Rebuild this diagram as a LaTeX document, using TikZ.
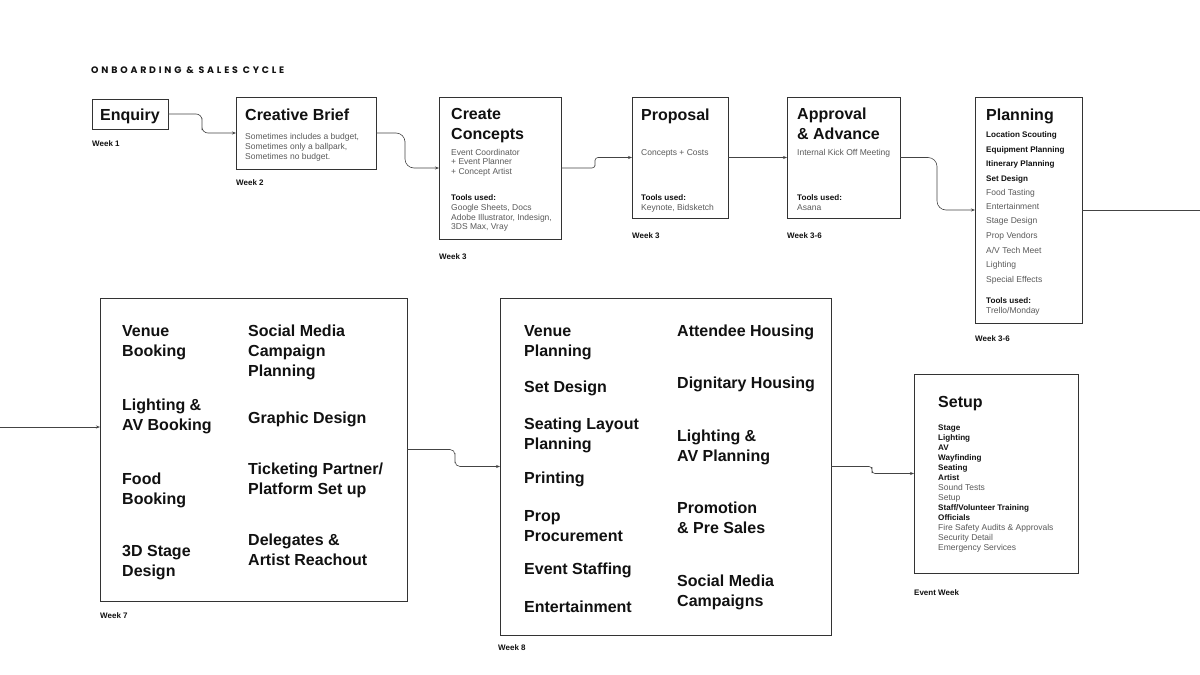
\documentclass[tikz,border=0pt]{standalone}
\usepackage{fontspec}
\setmainfont{Liberation Sans}
\newfontfamily\titlefont{Poppins}[LetterSpace=30.0]
\usetikzlibrary{arrows.meta}
\definecolor{ink}{HTML}{111111}
\definecolor{bodyc}{HTML}{5A5A5A}
\definecolor{boxc}{HTML}{333333}
\definecolor{connc}{HTML}{444444}
\newcommand{\putline}[5]{\node[#1,anchor=base west] (#2) at (#3,#4) {#5};}
\begin{document}
\begin{tikzpicture}[x=1pt,y=-1pt,
  box/.style={draw=boxc,line width=0.9pt,inner sep=0pt,outer sep=0pt,anchor=north west},
  hd/.style={font=\fontsize{16}{19}\selectfont\bfseries,text=ink,inner sep=0pt},
  bd/.style={font=\fontsize{8.5}{10}\selectfont,text=bodyc,inner sep=0pt},
  bdb/.style={font=\fontsize{8.1}{10}\selectfont\bfseries,text=ink,inner sep=0pt},
  wk/.style={font=\fontsize{8}{10}\selectfont\bfseries,text=ink,inner sep=0pt},
  big/.style={font=\fontsize{16}{20}\selectfont\bfseries,text=ink,inner sep=0pt},
  conn/.style={draw=connc,line width=0.6pt,rounded corners=6pt},
  tip/.style={-{Stealth[length=4pt,width=3pt]}}
]
\useasboundingbox (0,0) rectangle (1200,675);
\fill[white] (0,0) rectangle (1200,675);

% title
\node[anchor=base west,inner sep=0pt,text=ink,font=\titlefont\fontsize{9.4}{10}\selectfont\bfseries] (title) at (91,73.5) {ONBOARDING \& SALES CYCLE};

% boxes
\node[box,minimum width=76pt,minimum height=30pt] (enq) at (92,99) {};
\node[box,minimum width=140pt,minimum height=72pt] (cb) at (236,97) {};
\node[box,minimum width=122pt,minimum height=142pt] (cc) at (439,97) {};
\node[box,minimum width=96pt,minimum height=121pt] (prop) at (632,97) {};
\node[box,minimum width=113pt,minimum height=121pt] (appr) at (787,97) {};
\node[box,minimum width=107pt,minimum height=226pt] (plan) at (975,97) {};
\node[box,minimum width=307pt,minimum height=303pt] (w7) at (100,298) {};
\node[box,minimum width=331pt,minimum height=337pt] (w8) at (500,298) {};
\node[box,minimum width=164pt,minimum height=199pt] (setup) at (914,374) {};

% Enquiry
\putline{hd}{enqT}{100}{120}{Enquiry}
\putline{wk}{wk1}{92}{146}{Week 1}

% Creative brief
\putline{hd}{cbT}{245}{120}{Creative Brief}
\putline{bd}{cb1}{245}{139}{Sometimes includes a budget,}
\putline{bd}{cb2}{245}{149}{Sometimes only a ballpark,}
\putline{bd}{cb3}{245}{159}{Sometimes no budget.}
\putline{wk}{wk2}{236}{185}{Week 2}

% Create concepts
\putline{hd}{ccT1}{451}{119.5}{Create}
\putline{hd}{ccT2}{451}{139}{Concepts}
\putline{bd}{cc1}{451}{155}{Event Coordinator}
\putline{bd}{cc2}{451}{164.5}{+ Event Planner}
\putline{bd}{cc3}{451}{174}{+ Concept Artist}
\putline{bdb}{cc4}{451}{200.5}{Tools used:}
\putline{bd}{cc5}{451}{210.5}{Google Sheets, Docs}
\putline{bd}{cc6}{451}{220}{Adobe Illustrator, Indesign,}
\putline{bd}{cc7}{451}{229.5}{3DS Max, Vray}
\putline{wk}{wk3a}{439}{259}{Week 3}

% Proposal
\putline{hd}{prT}{641}{120}{Proposal}
\putline{bd}{pr1}{641}{155}{Concepts + Costs}
\putline{bdb}{pr2}{641}{200.5}{Tools used:}
\putline{bd}{pr3}{641}{210.5}{Keynote, Bidsketch}
\putline{wk}{wk3b}{632}{238}{Week 3}

% Approval
\putline{hd}{apT1}{797}{119.5}{Approval}
\putline{hd}{apT2}{797}{139}{\& Advance}
\putline{bd}{ap1}{797}{155}{Internal Kick Off Meeting}
\putline{bdb}{ap2}{797}{200.5}{Tools used:}
\putline{bd}{ap3}{797}{210.5}{Asana}
\putline{wk}{wk36a}{787}{238}{Week 3-6}

% Planning
\putline{hd}{plT}{986}{120}{Planning}
\putline{bdb}{pl1}{986}{137.5}{Location Scouting}
\putline{bdb}{pl2}{986}{152}{Equipment Planning}
\putline{bdb}{pl3}{986}{166.5}{Itinerary Planning}
\putline{bdb}{pl4}{986}{181}{Set Design}
\putline{bd}{pl5}{986}{195.5}{Food Tasting}
\putline{bd}{pl6}{986}{209.5}{Entertainment}
\putline{bd}{pl7}{986}{223.5}{Stage Design}
\putline{bd}{pl8}{986}{238}{Prop Vendors}
\putline{bd}{pl9}{986}{253}{A/V Tech Meet}
\putline{bd}{pl10}{986}{267.5}{Lighting}
\putline{bd}{pl11}{986}{282}{Special Effects}
\putline{bdb}{pl12}{986}{303}{Tools used:}
\putline{bd}{pl13}{986}{313}{Trello/Monday}
\putline{wk}{wk36b}{975}{341}{Week 3-6}

% Week 7
\putline{big}{a1}{122}{336}{Venue}
\putline{big}{a2}{122}{356}{Booking}
\putline{big}{a3}{122}{410.5}{Lighting \&}
\putline{big}{a4}{122}{430.5}{AV Booking}
\putline{big}{a5}{122}{484.5}{Food}
\putline{big}{a6}{122}{504.5}{Booking}
\putline{big}{a7}{122}{556}{3D Stage}
\putline{big}{a8}{122}{576}{Design}
\putline{big}{b1}{248}{336}{Social Media}
\putline{big}{b2}{248}{356}{Campaign}
\putline{big}{b3}{248}{376}{Planning}
\putline{big}{b4}{248}{423}{Graphic Design}
\putline{big}{b5}{248}{474}{Ticketing Partner/}
\putline{big}{b6}{248}{494}{Platform Set up}
\putline{big}{b7}{248}{545.5}{Delegates \&}
\putline{big}{b8}{248}{565.5}{Artist Reachout}
\putline{wk}{wk7}{100}{618}{Week 7}

% Week 8
\putline{big}{c1}{524}{336}{Venue}
\putline{big}{c2}{524}{356}{Planning}
\putline{big}{c3}{524}{392.5}{Set Design}
\putline{big}{c4}{524}{429.5}{Seating Layout}
\putline{big}{c5}{524}{449.5}{Planning}
\putline{big}{c6}{524}{483.5}{Printing}
\putline{big}{c7}{524}{521}{Prop}
\putline{big}{c8}{524}{541}{Procurement}
\putline{big}{c9}{524}{574}{Event Staffing}
\putline{big}{c10}{524}{612}{Entertainment}
\putline{big}{d1}{677}{336}{Attendee Housing}
\putline{big}{d2}{677}{388.5}{Dignitary Housing}
\putline{big}{d3}{677}{441}{Lighting \&}
\putline{big}{d4}{677}{461}{AV Planning}
\putline{big}{d5}{677}{513.5}{Promotion}
\putline{big}{d6}{677}{533.5}{\& Pre Sales}
\putline{big}{d7}{677}{586}{Social Media}
\putline{big}{d8}{677}{606}{Campaigns}
\putline{wk}{wk8}{498}{650}{Week 8}

% Setup
\putline{hd}{suT}{938}{407}{Setup}
\putline{bdb}{s1}{938}{430.5}{Stage}
\putline{bdb}{s2}{938}{440.5}{Lighting}
\putline{bdb}{s3}{938}{450.5}{AV}
\putline{bdb}{s4}{938}{460.5}{Wayfinding}
\putline{bdb}{s5}{938}{470.5}{Seating}
\putline{bdb}{s6}{938}{480.5}{Artist}
\putline{bd}{s7}{938}{490.5}{Sound Tests}
\putline{bd}{s8}{938}{500.5}{Setup}
\putline{bdb}{s9}{938}{510.5}{Staff/Volunteer Training}
\putline{bdb}{s10}{938}{520.5}{Officials}
\putline{bd}{s11}{938}{530.5}{Fire Safety Audits \& Approvals}
\putline{bd}{s12}{938}{540.5}{Security Detail}
\putline{bd}{s13}{938}{550.5}{Emergency Services}
\putline{wk}{wkev}{914}{595}{Event Week}

% connector waypoints
\coordinate (m1) at (202,124);
\coordinate (m2) at (405,150);
\coordinate (m3) at (595,163);
\coordinate (m5) at (937,184);
\coordinate (offR) at (1200,210);
\coordinate (offL) at (0,427);
\coordinate (m8) at (455,458);
\coordinate (m9) at (872,470);

% connectors
\draw[conn,tip] (enq.east) -| (m1) |- (cb.west);
\draw[conn,tip,rounded corners=9pt] (cb.east) -| (m2) |- (cc.west);
\draw[conn,tip,rounded corners=3pt] (cc.east) -| (m3) |- (prop.west);
\draw[conn,tip] (prop.east) -- (appr.west);
\draw[conn,tip,rounded corners=9pt] (appr.east) -| (m5) |- (plan.west);
\draw[conn] (plan.east) -- (offR);
\draw[conn,tip] (offL) -- (offL -| w7.west);
\draw[conn,tip,rounded corners=5pt] (w7.east) -| (m8) |- (w8.west);
\draw[conn,tip,rounded corners=3pt] (w8.east) -| (m9) |- (setup.west);
\end{tikzpicture}
\end{document}
